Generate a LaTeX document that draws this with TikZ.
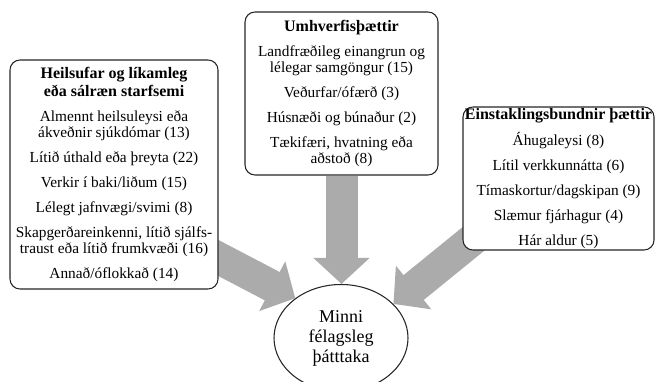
\documentclass[tikz,border=0pt]{standalone}
\usepackage{fontspec}
\setmainfont{Liberation Serif}
\usetikzlibrary{shapes.geometric, arrows.meta, positioning, backgrounds}
\definecolor{arrowgray}{gray}{0.67}
\newcommand{\factortitle}[1]{{\fontsize{12}{12}\selectfont\bfseries #1}}

\begin{document}
\begin{tikzpicture}[
        x=0.75pt, y=-0.75pt,
        box/.style={rectangle, draw=black!85, fill=white, line width=0.8pt, rounded corners=7.5pt, align=center, inner sep=1pt, font=\fontsize{11.5}{12}\selectfont},
        goal/.style={ellipse, draw=black!85, fill=white, line width=0.8pt, align=center, inner sep=0pt, minimum width=100.5pt, minimum height=80.25pt, font=\fontsize{13.5}{15}\selectfont},
        bigarrow/.style={-{Triangle[width=41pt, length=19.5pt]}, line width=24pt, draw=arrowgray}
    ]
    \useasboundingbox (0,0) rectangle (655,381);

    \node (health) [box, minimum width=156pt, minimum height=171.75pt] at (114,174.5) {\factortitle{Heilsufar og líkamleg}\\[1.5pt]\factortitle{eða sálræn starfsemi}\\[7pt]
        Almennt heilsuleysi eða\\ákveðnir sjúkdómar (13)\\[6.75pt]
        Lítið úthald eða þreyta (22)\\[6.75pt]
        Verkir í baki/liðum (15)\\[6.75pt]
        Lélegt jafnvægi/svimi (8)\\[6.75pt]
        Skapgerðareinkenni, lítið sjálfs-\\traust eða lítið frumkvæði (16)\\[6.75pt]
        Annað/óflokkað (14)};
    \node (env) [box, minimum width=144.75pt, minimum height=122.25pt] at (341.5,93.5) {\factortitle{Umhverfisþættir}\\[7pt]
        Landfræðileg einangrun og\\lélegar samgöngur (15)\\[6.75pt]
        Veðurfar/ófærð (3)\\[6.75pt]
        Húsnæði og búnaður (2)\\[6.75pt]
        Tækifæri, hvatning eða\\aðstoð (8)};
    \node (indiv) [box, minimum width=143.25pt, minimum height=107.25pt] at (558.5,178.5) {\factortitle{Einstaklingsbundnir þættir}\\[5.5pt]
        Áhugaleysi (8)\\[6.75pt]
        Lítil verkkunnátta (6)\\[6.75pt]
        Tímaskortur/dagskipan (9)\\[6.75pt]
        Slæmur fjárhagur (4)\\[6.75pt]
        Hár aldur (5)};
    \node (outcome) [goal] at (341,338) {Minni\\félagsleg\\þátttaka};

    \coordinate (hsrc) at (153.5,224);
    \coordinate (isrc) at (493,223);

    \begin{pgfonlayer}{background}
    \draw [bigarrow] (hsrc) -- (outcome.139);
    \draw [bigarrow] (env.south) -- (env.south |- outcome.north);
    \draw [bigarrow] (isrc) -- (outcome.33);
    \end{pgfonlayer}

\end{tikzpicture}
\end{document}
